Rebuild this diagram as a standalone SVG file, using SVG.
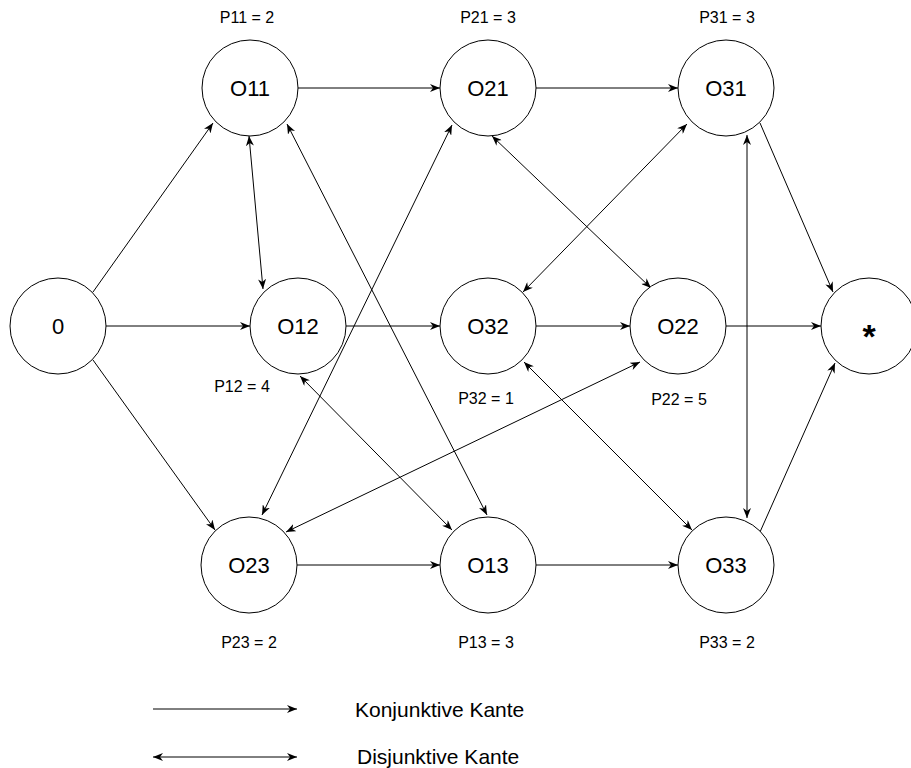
<svg xmlns="http://www.w3.org/2000/svg" width="911" height="768" viewBox="0 0 911 768">
  <style>
    .node circle { fill: #ffffff; stroke: #000000; stroke-width: 1; }
    .node text { font-family: "Liberation Sans", Arial, Helvetica, sans-serif; font-size: 22px; fill: #000000; text-anchor: middle; }
    .lbl { font-family: "Liberation Sans", Arial, Helvetica, sans-serif; font-size: 16px; fill: #000000; text-anchor: middle; }
    .leg { font-family: "Liberation Sans", Arial, Helvetica, sans-serif; font-size: 21px; fill: #000000; }
    .con line { stroke: #000000; stroke-width: 1; fill: none; }
    .con .k { marker-end: url(#arr); }
    .con .d { marker-start: url(#arr); marker-end: url(#arr); }
  </style>
  <defs>
    <marker id="arr" viewBox="0 0 10 8" refX="10" refY="4" markerWidth="10" markerHeight="8" markerUnits="userSpaceOnUse" orient="auto-start-reverse">
      <path d="M0,0 L10,4 L0,8 L3,4 Z" fill="#000000"/>
    </marker>
  </defs>
  <rect x="0" y="0" width="911" height="768" fill="#ffffff"/>

  <g id="connectors" class="con">
    <!-- conjunctive -->
    <line class="k" x1="93" y1="292" x2="213" y2="123"/>
    <line class="k" x1="106" y1="326" x2="250" y2="326"/>
    <line class="k" x1="93" y1="360" x2="215" y2="530"/>
    <line class="k" x1="298" y1="88" x2="440" y2="88"/>
    <line class="k" x1="536" y1="88" x2="678" y2="88"/>
    <line class="k" x1="760" y1="123" x2="833" y2="292"/>
    <line class="k" x1="346" y1="326" x2="440" y2="326"/>
    <line class="k" x1="536" y1="326" x2="630" y2="326"/>
    <line class="k" x1="726" y1="326" x2="821" y2="326"/>
    <line class="k" x1="297" y1="565" x2="440" y2="565"/>
    <line class="k" x1="536" y1="565" x2="678" y2="565"/>
    <line class="k" x1="760" y1="532" x2="835" y2="363"/>
    <!-- disjunctive -->
    <line class="d" x1="249" y1="136" x2="263" y2="289"/>
    <line class="d" x1="287" y1="124" x2="487" y2="515"/>
    <line class="d" x1="452" y1="125" x2="262" y2="515"/>
    <line class="d" x1="492" y1="136" x2="651" y2="288"/>
    <line class="d" x1="687" y1="124" x2="523" y2="292"/>
    <line class="d" x1="747" y1="135" x2="747" y2="518"/>
    <line class="d" x1="300" y1="376" x2="452" y2="530"/>
    <line class="d" x1="640" y1="362" x2="286" y2="532"/>
    <line class="d" x1="524" y1="362" x2="692" y2="530"/>
    <!-- legend -->
    <line class="k" x1="153" y1="709" x2="297" y2="709"/>
    <line class="d" x1="153" y1="757" x2="297" y2="757"/>
  </g>

  <g id="n0" class="node"><circle cx="58" cy="326" r="48"/><text x="58" y="334">0</text></g>
  <g id="O11" class="node"><circle cx="250" cy="88" r="48"/><text x="250" y="96">O11</text></g>
  <g id="O12" class="node"><circle cx="298" cy="326" r="48"/><text x="298" y="334">O12</text></g>
  <g id="O23" class="node"><circle cx="249" cy="565" r="48"/><text x="249" y="573">O23</text></g>
  <g id="O21" class="node"><circle cx="488" cy="88" r="48"/><text x="488" y="96">O21</text></g>
  <g id="O32" class="node"><circle cx="488" cy="326" r="48"/><text x="488" y="334">O32</text></g>
  <g id="O13" class="node"><circle cx="488" cy="565" r="48"/><text x="488" y="573">O13</text></g>
  <g id="O31" class="node"><circle cx="726" cy="88" r="48"/><text x="726" y="96">O31</text></g>
  <g id="O22" class="node"><circle cx="678" cy="326" r="48"/><text x="678" y="334">O22</text></g>
  <g id="O33" class="node"><circle cx="726" cy="565" r="48"/><text x="726" y="573">O33</text></g>
  <g id="nEnd" class="node"><circle cx="869" cy="326" r="48"/><text x="869" y="348" style="font-size:34px;font-weight:bold">*</text></g>

  <g id="labels">
    <text class="lbl" x="247" y="23">P11 = 2</text>
    <text class="lbl" x="488" y="23">P21 = 3</text>
    <text class="lbl" x="727" y="23">P31 = 3</text>
    <text class="lbl" x="242" y="392">P12 = 4</text>
    <text class="lbl" x="486" y="404">P32 = 1</text>
    <text class="lbl" x="679" y="405">P22 = 5</text>
    <text class="lbl" x="249" y="648">P23 = 2</text>
    <text class="lbl" x="486" y="648">P13 = 3</text>
    <text class="lbl" x="727" y="648">P33 = 2</text>
  </g>

  <g id="legend">
    <text class="leg" x="355" y="717">Konjunktive Kante</text>
    <text class="leg" x="357" y="764">Disjunktive Kante</text>
  </g>
</svg>
